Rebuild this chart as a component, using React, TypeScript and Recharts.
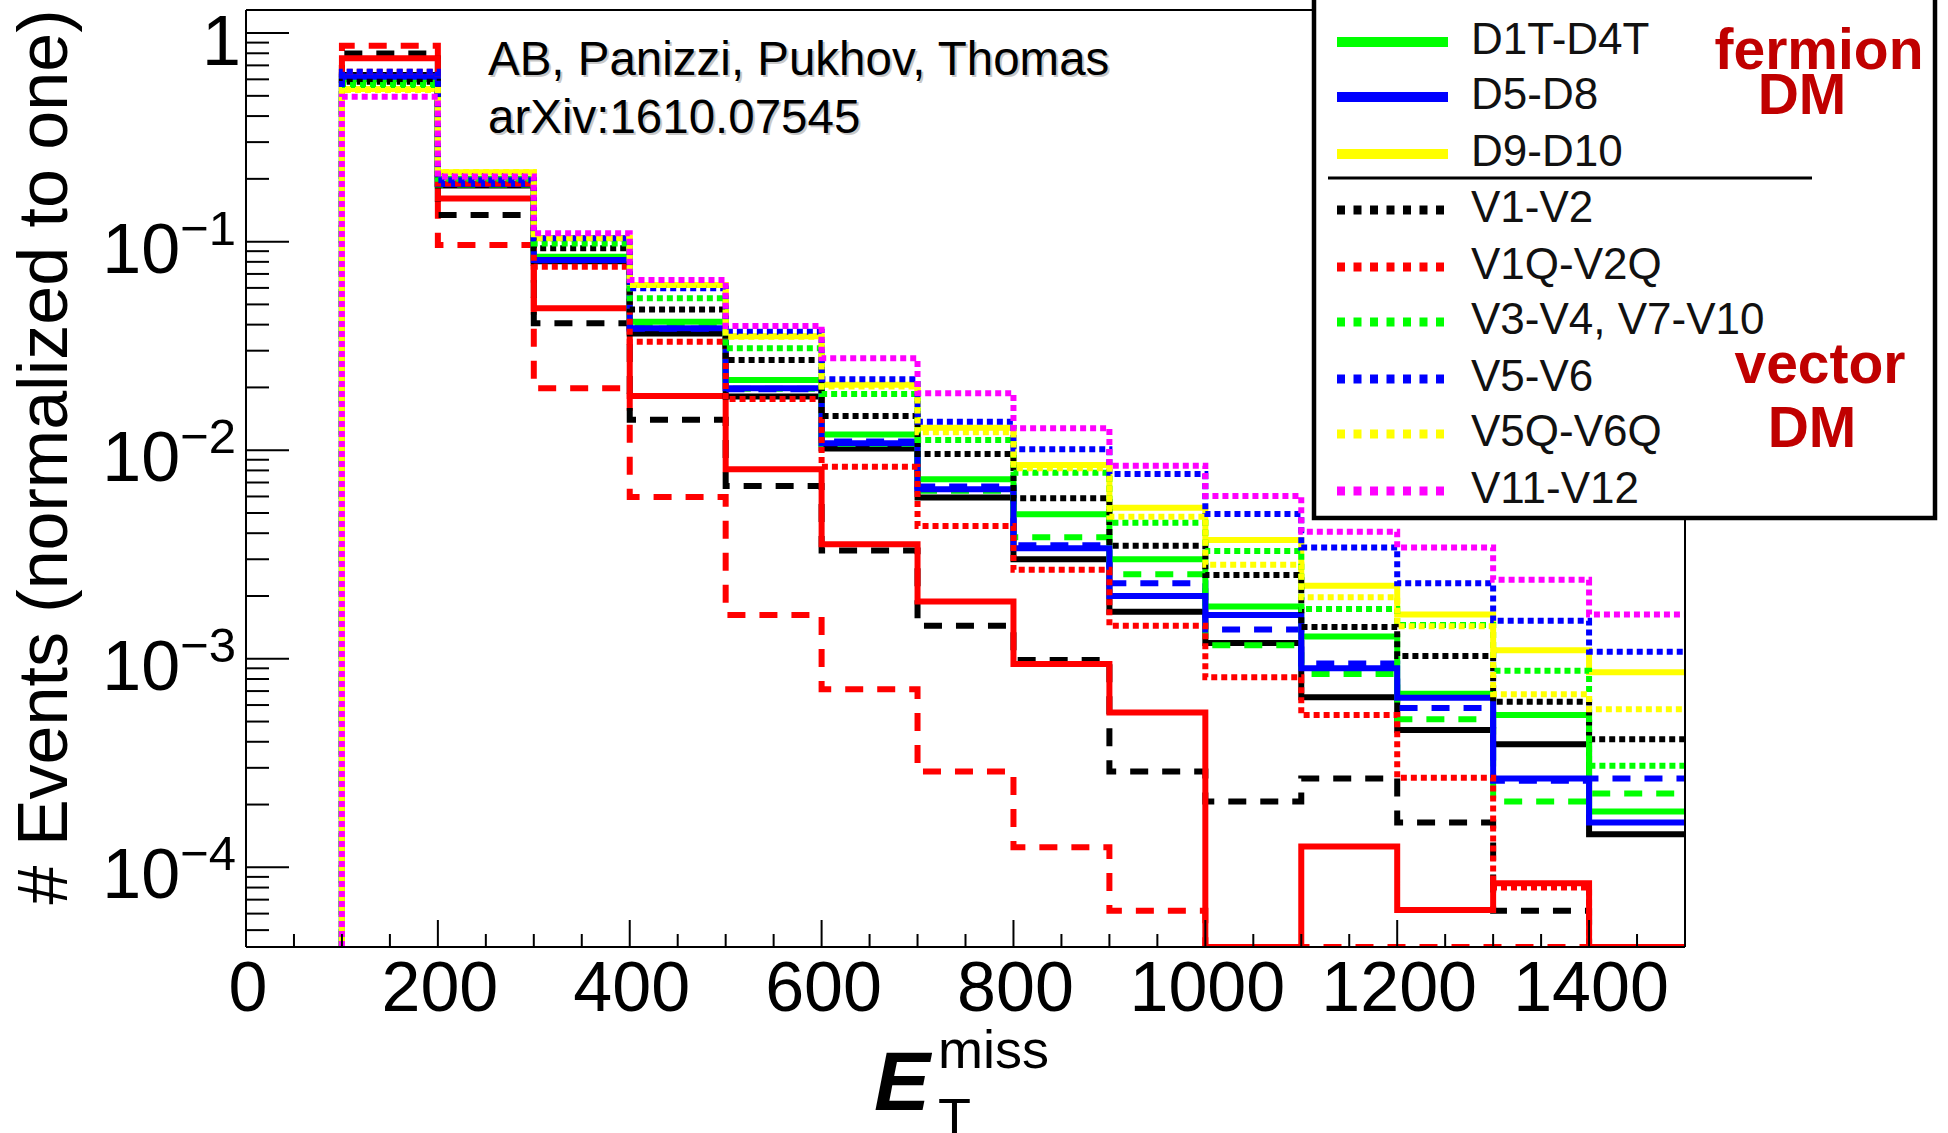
import { ComposedChart, Line, XAxis, YAxis } from "recharts";

// bins of E_T^miss (GeV): 100-200 ... 1400-1500
const binLowEdges = [100, 200, 300, 400, 500, 600, 700, 800, 900, 1000, 1100, 1200, 1300, 1400];
const binHighEdge = 1500;

// normalized event fractions per bin (0 = empty bin)
const redSolid = [0.757, 0.161, 0.0479, 0.0182, 0.0081, 0.00354, 0.00188, 0.000944, 0.000552, 0, 0.000126, 0.0000625, 0.000084, 0];
const redDashed = [0.869, 0.0963, 0.0198, 0.00597, 0.00162, 0.000714, 0.000288, 0.000125, 0.000062, 0, 0, 0, 0, 0];
const blackSolid = [0.63, 0.186, 0.0805, 0.0363, 0.0181, 0.0102, 0.00594, 0.003, 0.00168, 0.00119, 0.000653, 0.000456, 0.000389, 0.000144];
const blackDashed = [0.799, 0.134, 0.0406, 0.014, 0.00673, 0.0033, 0.00144, 0.000986, 0.000288, 0.000207, 0.000267, 0.000164, 0.000062, 0];
const greenDashed = [0.6, 0.188, 0.083, 0.039, 0.0197, 0.0107, 0.0064, 0.00382, 0.00254, 0.00116, 0.000845, 0.000513, 0.000207, 0.000226];
const blueDashed = [0.62, 0.19, 0.0814, 0.0382, 0.0196, 0.011, 0.0067, 0.0035, 0.0023, 0.00138, 0.00095, 0.00058, 0.00026, 0.000267];
const d1tD4t = [0.6, 0.19, 0.0847, 0.0413, 0.0217, 0.0119, 0.00725, 0.00493, 0.003, 0.00178, 0.00128, 0.00068, 0.000538, 0.000185];
const d5D8 = [0.617, 0.189, 0.0816, 0.0384, 0.0198, 0.0108, 0.00649, 0.00339, 0.002, 0.00162, 0.0009, 0.000651, 0.000267, 0.000164];
const d9D10 = [0.54, 0.215, 0.104, 0.062, 0.0352, 0.0206, 0.0128, 0.0085, 0.0053, 0.00371, 0.00224, 0.00163, 0.0011, 0.000861];
const v1V2 = [0.584, 0.205, 0.0929, 0.0473, 0.0271, 0.0146, 0.0096, 0.00588, 0.00348, 0.00252, 0.00142, 0.00103, 0.000622, 0.000411];
const v1qV2q = [0.652, 0.19, 0.0758, 0.0331, 0.0176, 0.00834, 0.00433, 0.00267, 0.00144, 0.000815, 0.000538, 0.000269, 0.00008, 0];
const v3V4V7V10 = [0.563, 0.2, 0.098, 0.0535, 0.0308, 0.0186, 0.0112, 0.0078, 0.00449, 0.00329, 0.00173, 0.00145, 0.000877, 0.000307];
const v5V6 = [0.652, 0.197, 0.1037, 0.0597, 0.037, 0.0219, 0.0137, 0.0101, 0.00769, 0.00494, 0.00342, 0.0023, 0.00152, 0.00108];
const v5qV6q = [0.533, 0.216, 0.1037, 0.0619, 0.035, 0.0202, 0.0122, 0.0082, 0.0048, 0.00282, 0.00197, 0.00143, 0.000676, 0.000573];
const v11V12 = [0.495, 0.205, 0.1096, 0.0655, 0.0394, 0.0276, 0.01875, 0.01273, 0.00843, 0.00603, 0.00407, 0.00342, 0.00239, 0.00163];

const xTickLabels = [0, 200, 400, 600, 800, 1000, 1200, 1400];
const yTickLabels = [1, 0.1, 0.01, 0.001, 0.0001];

const Y_MIN = 4.15e-5;
const Y_MAX = 1.29;

const SOLID = "";
const DASHED = "18 14";
const DOTTED = "6 4";

const series = [
  { key: "redDashed", values: redDashed, color: "#ff0000", dash: DASHED },
  { key: "blackDashed", values: blackDashed, color: "#000000", dash: DASHED },
  { key: "redSolid", values: redSolid, color: "#ff0000", dash: SOLID },
  { key: "blackSolid", values: blackSolid, color: "#000000", dash: SOLID },
  { key: "greenDashed", values: greenDashed, color: "#00ff00", dash: DASHED },
  { key: "blueDashed", values: blueDashed, color: "#0000ff", dash: DASHED },
  { key: "d1tD4t", values: d1tD4t, color: "#00ff00", dash: SOLID },
  { key: "d5D8", values: d5D8, color: "#0000ff", dash: SOLID },
  { key: "d9D10", values: d9D10, color: "#ffff00", dash: SOLID },
  { key: "v1qV2q", values: v1qV2q, color: "#ff0000", dash: DOTTED },
  { key: "v1V2", values: v1V2, color: "#000000", dash: DOTTED },
  { key: "v3V4V7V10", values: v3V4V7V10, color: "#00ff00", dash: DOTTED },
  { key: "v5V6", values: v5V6, color: "#0000ff", dash: DOTTED },
  { key: "v5qV6q", values: v5qV6q, color: "#ffff00", dash: DOTTED },
  { key: "v11V12", values: v11V12, color: "#ff00ff", dash: DOTTED },
];

const legendItems = [
  { label: "D1T-D4T", color: "#00ff00", dash: SOLID, y: 42 },
  { label: "D5-D8", color: "#0000ff", dash: SOLID, y: 97 },
  { label: "D9-D10", color: "#ffff00", dash: SOLID, y: 154 },
  { label: "V1-V2", color: "#000000", dash: DOTTED, y: 210 },
  { label: "V1Q-V2Q", color: "#ff0000", dash: DOTTED, y: 267 },
  { label: "V3-V4, V7-V10", color: "#00ff00", dash: DOTTED, y: 322 },
  { label: "V5-V6", color: "#0000ff", dash: DOTTED, y: 379 },
  { label: "V5Q-V6Q", color: "#ffff00", dash: DOTTED, y: 434 },
  { label: "V11-V12", color: "#ff00ff", dash: DOTTED, y: 491 },
];

// histogram drawn as steps; empty bins sit on the axis floor like ROOT does
const floorOf = (v: number) => (v > 0 ? v : Y_MIN);
const rows: Record<string, number>[] = [];
{
  const start: Record<string, number> = { x: binLowEdges[0] };
  series.forEach((s) => (start[s.key] = Y_MIN));
  rows.push(start);
  binLowEdges.forEach((edge, i) => {
    const r: Record<string, number> = { x: edge };
    series.forEach((s) => (r[s.key] = floorOf(s.values[i])));
    rows.push(r);
  });
  const end: Record<string, number> = { x: binHighEdge };
  series.forEach((s) => (end[s.key] = floorOf(s.values[s.values.length - 1])));
  rows.push(end);
}

const xTicks: number[] = [];
for (let v = 0; v <= binHighEdge; v += 50) xTicks.push(v);

const yTicks: number[] = [];
for (let k = -5; k <= 0; k++) {
  for (let m = 1; m <= 9; m++) {
    const v = m * Math.pow(10, k);
    if (v >= Y_MIN && v <= Y_MAX) yTicks.push(v);
  }
}

const FONT = "'Liberation Sans', Arial, sans-serif";
const PLOT_LEFT = 246;
const PLOT_TOP = 10;
const PLOT_RIGHT = 1685;
const PLOT_BOTTOM = 947;

const XTick = (props: any) => {
  const { x, y, payload } = props;
  const v = payload.value;
  const major = v % 200 === 0;
  return (
    <g>
      <line x1={x} x2={x} y1={y} y2={y - (major ? 27 : 13)} stroke="#000" strokeWidth={2} />
      {xTickLabels.includes(v) && (
        <text x={x + 2} y={y + 64} textAnchor="middle" fontSize={70} fontFamily={FONT} fill="#000">
          {v}
        </text>
      )}
    </g>
  );
};

const YTick = (props: any) => {
  const { x, y, payload } = props;
  const v = payload.value;
  const lg = Math.log10(v);
  const decade = Math.abs(lg - Math.round(lg)) < 1e-6;
  const labelled = yTickLabels.some((t) => Math.abs(t - v) / t < 1e-6);
  const exp = Math.round(lg);
  return (
    <g>
      <line x1={x} x2={x + (decade ? 43 : 23)} y1={y} y2={y} stroke="#000" strokeWidth={2} />
      {labelled && exp === 0 && (
        <text x={241} y={y + 32} textAnchor="end" fontSize={70} fontFamily={FONT} fill="#000">
          1
        </text>
      )}
      {labelled && exp !== 0 && (
        <text x={236} y={y + 31} textAnchor="end" fontFamily={FONT} fill="#000">
          <tspan fontSize={70}>10</tspan>
          <tspan fontSize={49} dy={-28}>
            {"\u2212" + Math.abs(exp)}
          </tspan>
        </text>
      )}
    </g>
  );
};

export default function App() {
  return (
    <div
      style={{
        position: "absolute",
        left: 0,
        top: 0,
        width: 1948,
        height: 1133,
        background: "#fff",
        overflow: "hidden",
        fontFamily: FONT,
      }}
    >
      <ComposedChart
        width={1948}
        height={1133}
        data={rows}
        margin={{ top: PLOT_TOP, right: 1948 - PLOT_RIGHT, bottom: 0, left: 0 }}
      >
        <XAxis
          dataKey="x"
          type="number"
          domain={[0, binHighEdge]}
          ticks={xTicks}
          interval={0}
          height={1133 - PLOT_BOTTOM}
          tickSize={0}
          tickMargin={0}
          tickLine={false}
          axisLine={{ stroke: "#000", strokeWidth: 2 }}
          tick={(p: any) => <XTick {...p} />}
        />
        <YAxis
          type="number"
          scale="log"
          domain={[Y_MIN, Y_MAX]}
          allowDataOverflow
          ticks={yTicks}
          interval={0}
          width={PLOT_LEFT}
          tickSize={0}
          tickMargin={0}
          tickLine={false}
          axisLine={{ stroke: "#000", strokeWidth: 2 }}
          tick={(p: any) => <YTick {...p} />}
        />
        {series.map((s) => (
          <Line
            key={s.key}
            dataKey={s.key}
            type="stepAfter"
            stroke={s.color}
            strokeWidth={6}
            strokeDasharray={s.dash || undefined}
            strokeLinecap="butt"
            dot={false}
            activeDot={false}
            isAnimationActive={false}
          />
        ))}
      </ComposedChart>

      <svg
        width={1948}
        height={1133}
        style={{ position: "absolute", left: 0, top: 0, pointerEvents: "none" }}
        fontFamily={FONT}
      >
        {/* frame top and right */}
        <line x1={PLOT_LEFT} x2={PLOT_RIGHT} y1={PLOT_TOP} y2={PLOT_TOP} stroke="#000" strokeWidth={2} />
        <line x1={PLOT_RIGHT} x2={PLOT_RIGHT} y1={PLOT_TOP} y2={PLOT_BOTTOM} stroke="#000" strokeWidth={2} />

        {/* reference note */}
        <g fontSize={47.5}>
          <text x={490} y={77} fill="#c8c8c8">AB, Panizzi, Pukhov, Thomas</text>
          <text x={490} y={135} fill="#c8c8c8">arXiv:1610.07545</text>
          <text x={488} y={75} fill="#000">AB, Panizzi, Pukhov, Thomas</text>
          <text x={488} y={133} fill="#000">arXiv:1610.07545</text>
        </g>

        {/* legend */}
        <rect x={1314} y={-30} width={621} height={548} fill="#fff" stroke="#000" strokeWidth={4.5} />
        {legendItems.map((it) => (
          <g key={it.label}>
            <line
              x1={1337}
              x2={1448}
              y1={it.y}
              y2={it.y}
              stroke={it.color}
              strokeWidth={it.dash ? 9 : 10}
              strokeDasharray={it.dash ? "8 8.5" : undefined}
            />
            <text x={1471} y={it.y + 12} fontSize={44} fill="#111">
              {it.label}
            </text>
          </g>
        ))}
        <line x1={1328} x2={1812} y1={178} y2={178} stroke="#000" strokeWidth={3} />
        <g fill="#c00000" fontWeight="bold" fontSize={57} textAnchor="middle">
          <text x={1819} y={69}>fermion</text>
          <text x={1802} y={114}>DM</text>
          <text x={1820} y={383}>vector</text>
          <text x={1812} y={447}>DM</text>
        </g>

        {/* axis titles */}
        <text
          transform="translate(67,457) rotate(-90)"
          textAnchor="middle"
          fontSize={70}
          fill="#000"
        >
          # Events (normalized to one)
        </text>
        <text x={874} y={1110} fontSize={84} fontWeight="bold" fontStyle="italic" fill="#000">
          E
        </text>
        <text x={938} y={1068} fontSize={54} fill="#000">
          miss
        </text>
        <text x={938} y={1136} fontSize={54} fill="#000">
          T
        </text>
      </svg>
    </div>
  );
}
